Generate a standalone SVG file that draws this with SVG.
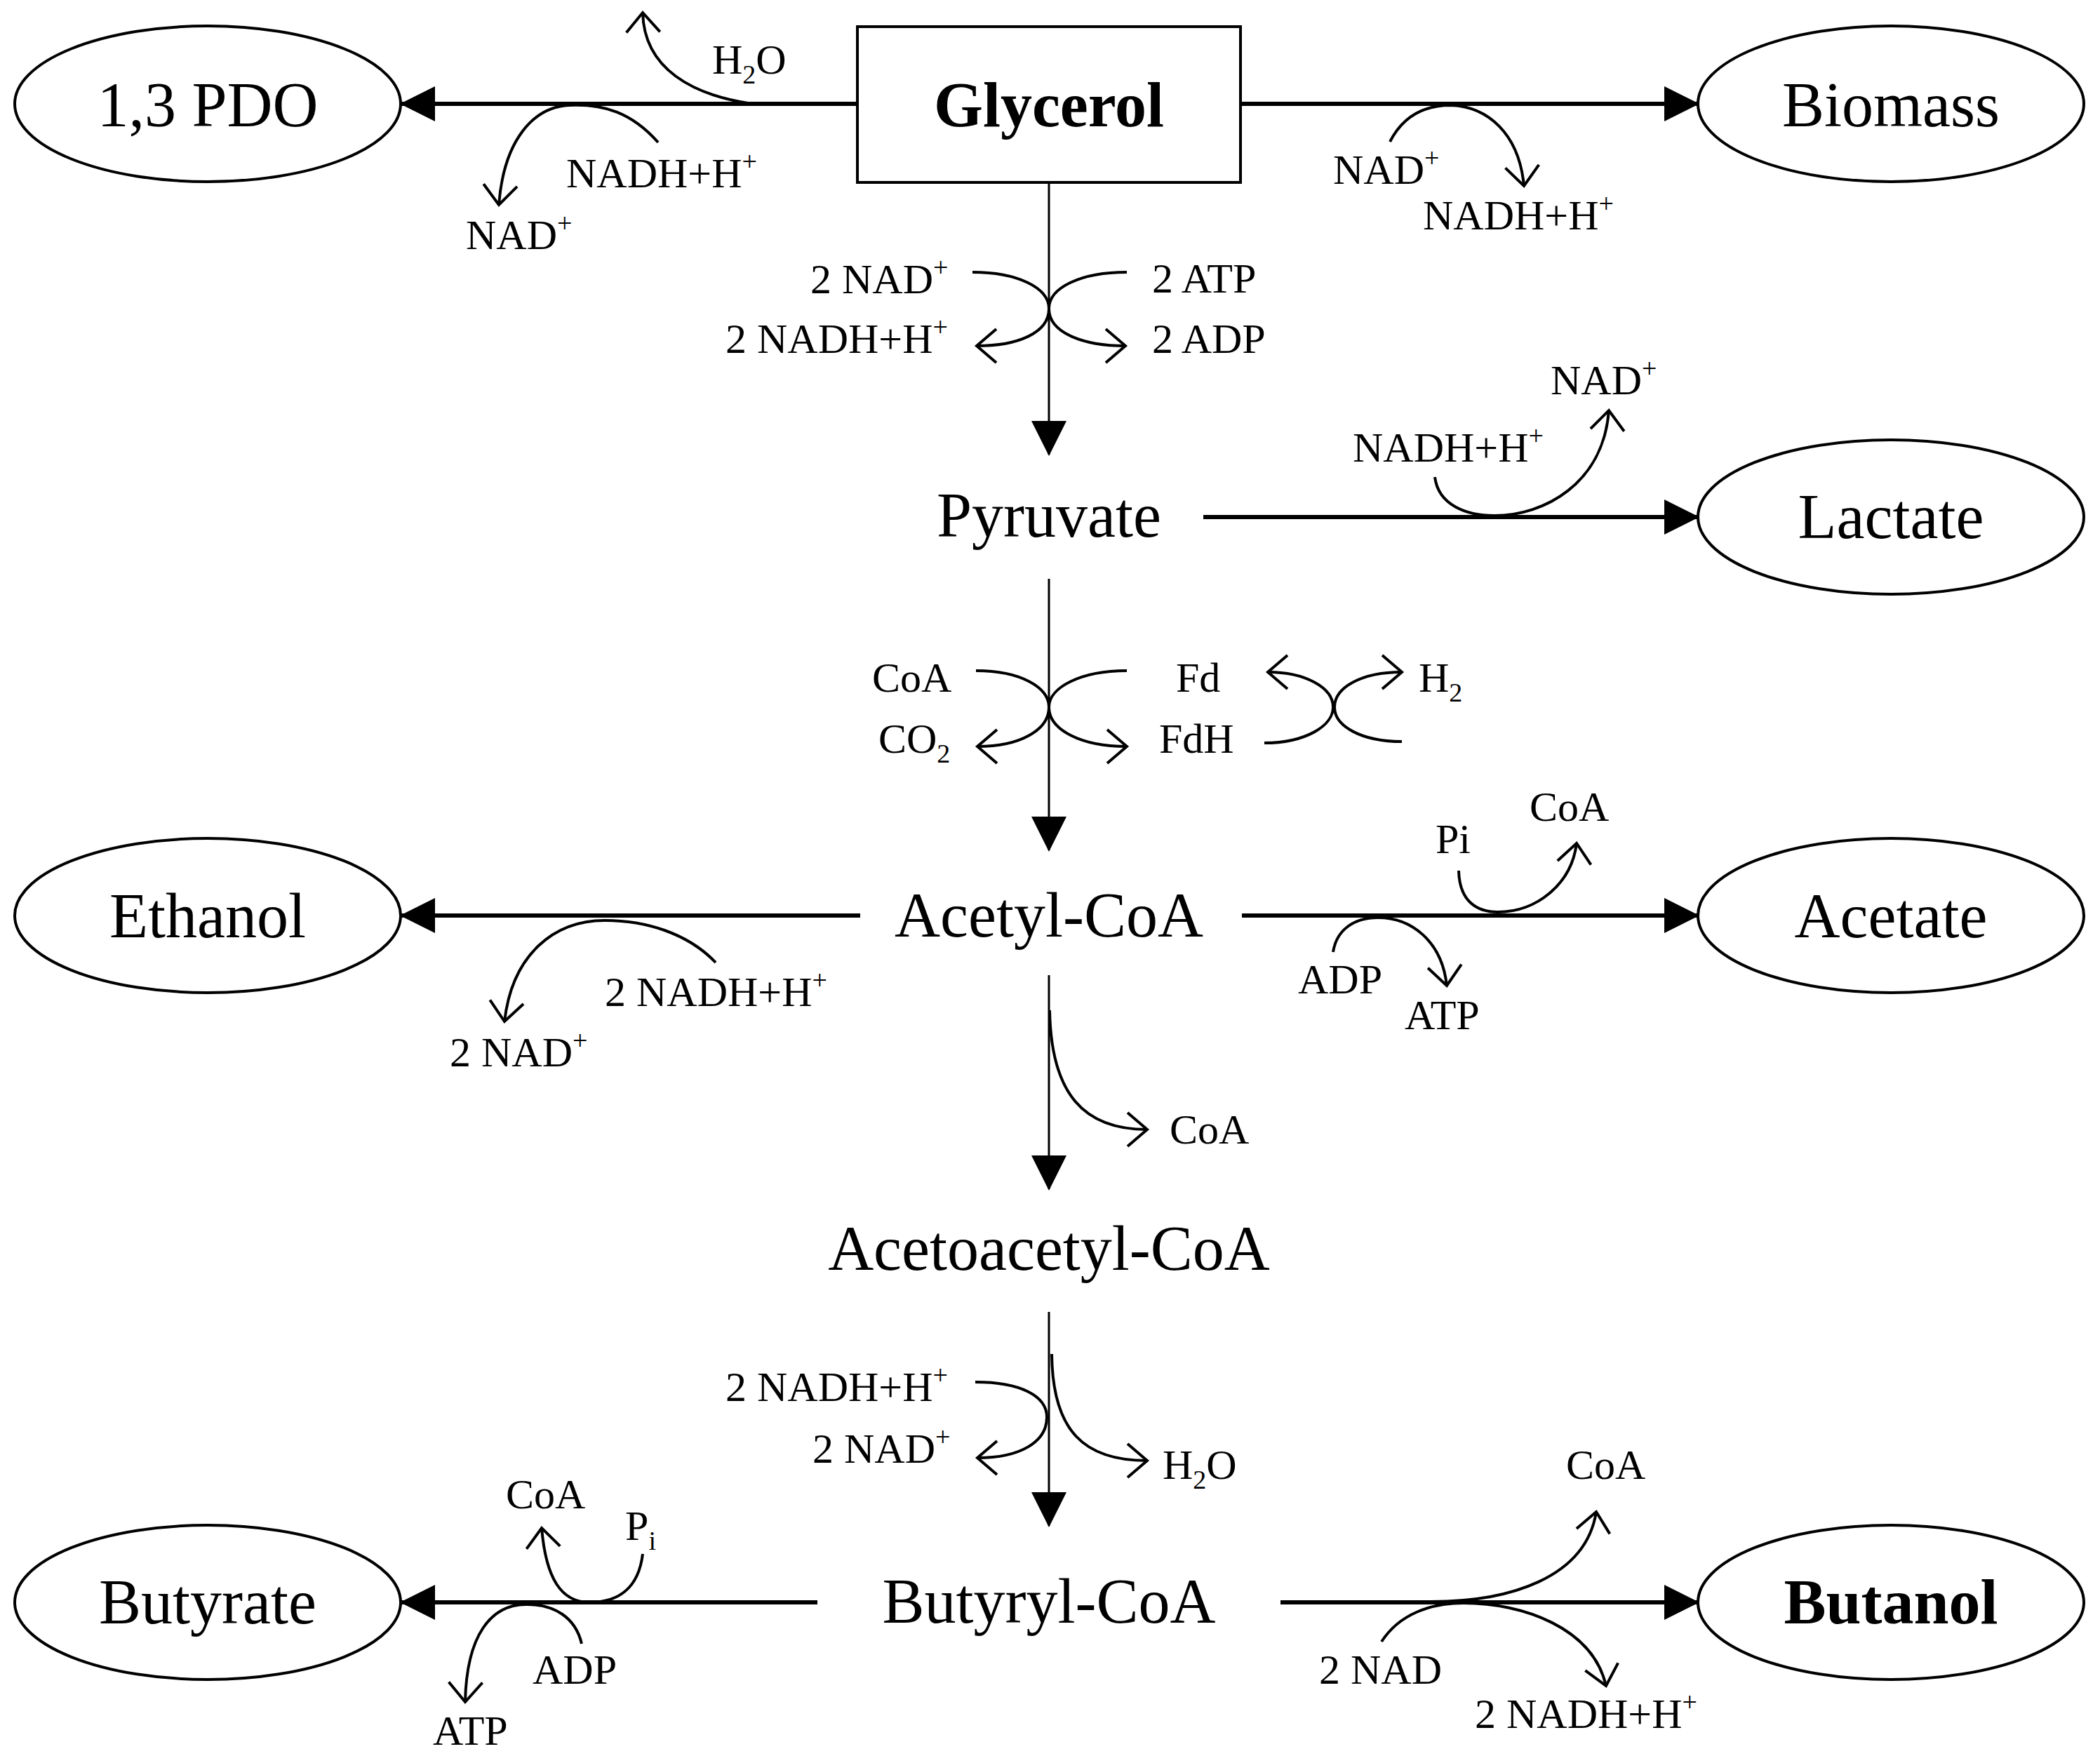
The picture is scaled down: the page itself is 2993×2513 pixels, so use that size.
<svg xmlns="http://www.w3.org/2000/svg" width="2993" height="2513" viewBox="0 0 2993 2513">
<style>
.node{fill:#fff;stroke:#000;stroke-width:4}
.big{font-family:"Liberation Serif","Times New Roman",serif;font-size:90px;fill:#000;text-anchor:middle}
.bold{font-weight:bold}
.lbl{font-family:"Liberation Serif","Times New Roman",serif;font-size:60px;fill:#000}
.sup{font-size:38px}
.sub{font-size:38px}
.main{stroke:#000;stroke-width:6;fill:none}
.vert{stroke:#000;stroke-width:3;fill:none}
.curve{stroke:#000;stroke-width:4;fill:none}
</style>
<defs>
<marker id="tri" viewBox="0 0 50 50" refX="48" refY="25" markerWidth="50" markerHeight="50" markerUnits="userSpaceOnUse" orient="auto">
<path d="M0,0 L50,25 L0,50 z" fill="#000"/>
</marker>
<marker id="open" viewBox="-40 -30 50 60" refX="0" refY="0" markerWidth="50" markerHeight="60" markerUnits="userSpaceOnUse" orient="auto" overflow="visible">
<path d="M-28,-24 L0,0 L-28,24" fill="none" stroke="#000" stroke-width="4" stroke-linejoin="miter"/>
</marker>
</defs>
<rect width="2993" height="2513" fill="#fff"/>

<g id="connectors">
<line class="main" x1="1222" y1="148" x2="572" y2="148" marker-end="url(#tri)"/>
<line class="main" x1="1768" y1="148" x2="2420" y2="148" marker-end="url(#tri)"/>
<line class="vert" x1="1495" y1="260" x2="1495" y2="648" marker-end="url(#tri)"/>
<line class="main" x1="1715" y1="737" x2="2420" y2="737" marker-end="url(#tri)"/>
<line class="vert" x1="1495" y1="825" x2="1495" y2="1212" marker-end="url(#tri)"/>
<line class="main" x1="1770" y1="1305" x2="2420" y2="1305" marker-end="url(#tri)"/>
<line class="main" x1="1226" y1="1305" x2="572" y2="1305" marker-end="url(#tri)"/>
<line class="vert" x1="1495" y1="1390" x2="1495" y2="1695" marker-end="url(#tri)"/>
<line class="vert" x1="1495" y1="1870" x2="1495" y2="2175" marker-end="url(#tri)"/>
<line class="main" x1="1165" y1="2284" x2="572" y2="2284" marker-end="url(#tri)"/>
<line class="main" x1="1825" y1="2284" x2="2420" y2="2284" marker-end="url(#tri)"/>

<!-- side reactions -->
<path class="curve" d="M1066,147 C990,135 918,100 916,18" marker-end="url(#open)"/>
<path class="curve" d="M938,203 C900,160 860,148 812,150 C760,152 718,200 711,292" marker-end="url(#open)"/>
<path class="curve" d="M1981,202 C2000,165 2030,150 2068,150 C2120,152 2165,190 2172,265" marker-end="url(#open)"/>
<path class="curve" stroke-width="5" d="M1386,388 C1450,388 1495,410 1495,440 C1495,475 1450,493 1392,493" marker-end="url(#open)"/>
<path class="curve" stroke-width="5" d="M1606,388 C1540,388 1495,410 1495,440 C1495,475 1545,493 1604,493" marker-end="url(#open)"/>
<path class="curve" d="M2045,680 C2050,720 2090,735 2130,735 C2200,735 2285,690 2293,585" marker-end="url(#open)"/>
<path class="curve" stroke-width="5" d="M1391,956 C1455,956 1495,980 1495,1008 C1495,1040 1455,1064 1393,1064" marker-end="url(#open)"/>
<path class="curve" stroke-width="5" d="M1606,956 C1540,956 1495,980 1495,1008 C1495,1040 1540,1064 1606,1064" marker-end="url(#open)"/>
<path class="curve" stroke-width="5" d="M1802,1059 C1860,1059 1900,1035 1900,1008 C1900,980 1860,958 1807,958" marker-end="url(#open)"/>
<path class="curve" stroke-width="5" d="M1998,1057 C1940,1057 1902,1035 1902,1008 C1902,980 1940,958 1998,958" marker-end="url(#open)"/>
<path class="curve" d="M2079,1241 C2080,1285 2105,1300 2135,1300 C2190,1300 2240,1260 2247,1202" marker-end="url(#open)"/>
<path class="curve" d="M1900,1357 C1905,1325 1930,1308 1964,1308 C2010,1308 2055,1340 2062,1405" marker-end="url(#open)"/>
<path class="curve" d="M1020,1372 C980,1330 920,1312 862,1312 C790,1312 730,1360 719,1456" marker-end="url(#open)"/>
<path class="curve" d="M1496,1440 C1498,1560 1545,1610 1635,1610" marker-end="url(#open)"/>
<path class="curve" d="M1499,1930 C1500,2040 1545,2082 1635,2082" marker-end="url(#open)"/>
<path class="curve" stroke-width="5" d="M1390,1970 C1455,1970 1492,1990 1492,2020 C1492,2055 1455,2078 1393,2078" marker-end="url(#open)"/>
<path class="curve" d="M916,2215 C910,2265 880,2284 840,2284 C800,2284 778,2250 772,2178" marker-end="url(#open)"/>
<path class="curve" d="M829,2343 C820,2305 790,2287 750,2287 C700,2287 665,2330 663,2426" marker-end="url(#open)"/>
<path class="curve" d="M2040,2283 C2150,2283 2260,2250 2275,2155" marker-end="url(#open)"/>
<path class="curve" d="M1969,2340 C1995,2300 2040,2285 2086,2285 C2170,2285 2270,2320 2289,2403" marker-end="url(#open)"/>

<g id="labels" class="lbl">
<text x="1015" y="105">H<tspan class="sub" dy="14">2</tspan><tspan dy="-14">O</tspan></text>
<text x="807" y="267">NADH+H<tspan class="sup" dy="-24">+</tspan></text>
<text x="664" y="355">NAD<tspan class="sup" dy="-24">+</tspan></text>
<text x="1900" y="262">NAD<tspan class="sup" dy="-24">+</tspan></text>
<text x="2028" y="327">NADH+H<tspan class="sup" dy="-24">+</tspan></text>
<text x="1155" y="418">2 NAD<tspan class="sup" dy="-24">+</tspan></text>
<text x="1034" y="503">2 NADH+H<tspan class="sup" dy="-24">+</tspan></text>
<text x="1642" y="417">2 ATP</text>
<text x="1642" y="503">2 ADP</text>
<text x="1928" y="658">NADH+H<tspan class="sup" dy="-24">+</tspan></text>
<text x="2210" y="562">NAD<tspan class="sup" dy="-24">+</tspan></text>
<text x="1243" y="986">CoA</text>
<text x="1252" y="1073">CO<tspan class="sub" dy="14">2</tspan></text>
<text x="1676" y="986">Fd</text>
<text x="1652" y="1073">FdH</text>
<text x="2022" y="986">H<tspan class="sub" dy="14">2</tspan></text>
<text x="2046" y="1216">Pi</text>
<text x="2180" y="1170">CoA</text>
<text x="1850" y="1416">ADP</text>
<text x="2002" y="1467">ATP</text>
<text x="862" y="1434">2 NADH+H<tspan class="sup" dy="-24">+</tspan></text>
<text x="641" y="1520">2 NAD<tspan class="sup" dy="-24">+</tspan></text>
<text x="1667" y="1630">CoA</text>
<text x="1034" y="1997">2 NADH+H<tspan class="sup" dy="-24">+</tspan></text>
<text x="1158" y="2085">2 NAD<tspan class="sup" dy="-24">+</tspan></text>
<text x="1657" y="2108">H<tspan class="sub" dy="14">2</tspan><tspan dy="-14">O</tspan></text>
<text x="721" y="2150">CoA</text>
<text x="891" y="2195">P<tspan class="sub" dy="14">i</tspan></text>
<text x="759" y="2400">ADP</text>
<text x="617" y="2487">ATP</text>
<text x="2232" y="2108">CoA</text>
<text x="1880" y="2400">2 NAD</text>
<text x="2102" y="2463">2 NADH+H<tspan class="sup" dy="-24">+</tspan></text>
</g>
</g>

<g id="glycerol">
<rect class="node" x="1222" y="38" width="546" height="222"/>
<text class="big bold" x="1495" y="180">Glycerol</text>
</g>
<g id="pdo">
<ellipse class="node" cx="296" cy="148" rx="275" ry="111"/>
<text class="big" x="296" y="180">1,3 PDO</text>
</g>
<g id="biomass">
<ellipse class="node" cx="2695" cy="148" rx="275" ry="111"/>
<text class="big" x="2695" y="180">Biomass</text>
</g>
<g id="pyruvate">
<text class="big" x="1495" y="765">Pyruvate</text>
</g>
<g id="lactate">
<ellipse class="node" cx="2695" cy="737" rx="275" ry="110"/>
<text class="big" x="2695" y="767">Lactate</text>
</g>
<g id="acetyl-coa">
<text class="big" x="1495" y="1335">Acetyl-CoA</text>
</g>
<g id="ethanol">
<ellipse class="node" cx="296" cy="1305" rx="275" ry="110"/>
<text class="big" x="296" y="1336">Ethanol</text>
</g>
<g id="acetate">
<ellipse class="node" cx="2695" cy="1305" rx="275" ry="110"/>
<text class="big" x="2695" y="1336">Acetate</text>
</g>
<g id="acetoacetyl-coa">
<text class="big" x="1495" y="1810">Acetoacetyl-CoA</text>
</g>
<g id="butyryl-coa">
<text class="big" x="1495" y="2313">Butyryl-CoA</text>
</g>
<g id="butyrate">
<ellipse class="node" cx="296" cy="2284" rx="275" ry="110"/>
<text class="big" x="296" y="2314">Butyrate</text>
</g>
<g id="butanol">
<ellipse class="node" cx="2695" cy="2284" rx="275" ry="110"/>
<text class="big bold" x="2695" y="2314">Butanol</text>
</g>
</svg>
